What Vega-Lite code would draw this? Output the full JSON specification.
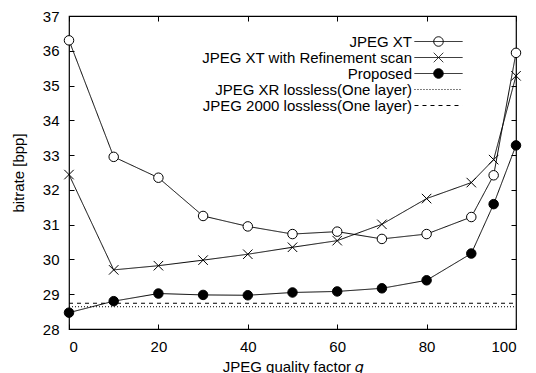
{
  "$schema": "https://vega.github.io/schema/vega-lite/v6.json",
  "width": 447,
  "height": 313,
  "autosize": {"type": "none"},
  "padding": {"left": 69, "top": 16, "right": 20, "bottom": 44},
  "background": "white",
  "config": {
    "font": "Liberation Sans",
    "view": {"stroke": "black", "strokeWidth": 1.2},
    "axis": {
      "domain": false,
      "grid": false,
      "ticks": true,
      "zindex": 1,
      "offset": -5,
      "tickColor": "black",
      "tickSize": 5,
      "tickWidth": 1,
      "labelFont": "Liberation Sans",
      "labelFontSize": 15,
      "labelColor": "black",
      "titleFont": "Liberation Sans",
      "titleFontSize": 15,
      "titleFontWeight": "normal",
      "titleColor": "black"
    }
  },
  "datasets": {
    "main": [
      {"q": 0, "series": "JPEG XT", "bitrate": 36.3},
      {"q": 10, "series": "JPEG XT", "bitrate": 32.95},
      {"q": 20, "series": "JPEG XT", "bitrate": 32.35},
      {"q": 30, "series": "JPEG XT", "bitrate": 31.25},
      {"q": 40, "series": "JPEG XT", "bitrate": 30.95},
      {"q": 50, "series": "JPEG XT", "bitrate": 30.73},
      {"q": 60, "series": "JPEG XT", "bitrate": 30.8},
      {"q": 70, "series": "JPEG XT", "bitrate": 30.59},
      {"q": 80, "series": "JPEG XT", "bitrate": 30.73},
      {"q": 90, "series": "JPEG XT", "bitrate": 31.22},
      {"q": 95, "series": "JPEG XT", "bitrate": 32.42},
      {"q": 100, "series": "JPEG XT", "bitrate": 35.94},
      {"q": 0, "series": "JPEG XT with Refinement scan", "bitrate": 32.44},
      {"q": 10, "series": "JPEG XT with Refinement scan", "bitrate": 29.7},
      {"q": 20, "series": "JPEG XT with Refinement scan", "bitrate": 29.82},
      {"q": 30, "series": "JPEG XT with Refinement scan", "bitrate": 29.98},
      {"q": 40, "series": "JPEG XT with Refinement scan", "bitrate": 30.15},
      {"q": 50, "series": "JPEG XT with Refinement scan", "bitrate": 30.35},
      {"q": 60, "series": "JPEG XT with Refinement scan", "bitrate": 30.54},
      {"q": 70, "series": "JPEG XT with Refinement scan", "bitrate": 31.01},
      {"q": 80, "series": "JPEG XT with Refinement scan", "bitrate": 31.75},
      {"q": 90, "series": "JPEG XT with Refinement scan", "bitrate": 32.21},
      {"q": 95, "series": "JPEG XT with Refinement scan", "bitrate": 32.87},
      {"q": 100, "series": "JPEG XT with Refinement scan", "bitrate": 35.28},
      {"q": 0, "series": "Proposed", "bitrate": 28.47},
      {"q": 10, "series": "Proposed", "bitrate": 28.8},
      {"q": 20, "series": "Proposed", "bitrate": 29.02},
      {"q": 30, "series": "Proposed", "bitrate": 28.98},
      {"q": 40, "series": "Proposed", "bitrate": 28.97},
      {"q": 50, "series": "Proposed", "bitrate": 29.05},
      {"q": 60, "series": "Proposed", "bitrate": 29.08},
      {"q": 70, "series": "Proposed", "bitrate": 29.17},
      {"q": 80, "series": "Proposed", "bitrate": 29.4},
      {"q": 90, "series": "Proposed", "bitrate": 30.17},
      {"q": 95, "series": "Proposed", "bitrate": 31.59},
      {"q": 100, "series": "Proposed", "bitrate": 33.28},
      {"q": 0, "series": "JPEG XR lossless(One layer)", "bitrate": 28.64},
      {"q": 100, "series": "JPEG XR lossless(One layer)", "bitrate": 28.64},
      {"q": 0, "series": "JPEG 2000 lossless(One layer)", "bitrate": 28.74},
      {"q": 100, "series": "JPEG 2000 lossless(One layer)", "bitrate": 28.74}
    ]
  },
  "data": {"name": "main"},
  "layer": [
    {
      "mark": {"type": "line", "color": "black", "strokeWidth": 1},
      "encoding": {
        "x": {
          "field": "q", "type": "quantitative",
          "scale": {"domain": [0, 100], "nice": false, "zero": false},
          "axis": {
            "orient": "bottom",
            "values": [0, 20, 40, 60, 80, 100],
            "labelPadding": 10,
            "title": "JPEG quality factor 𝑞",
            "titleY": 42,
            "titleBaseline": "middle"
          }
        },
        "y": {
          "field": "bitrate", "type": "quantitative",
          "scale": {"domain": [28, 37], "nice": false, "zero": false},
          "axis": {
            "orient": "left",
            "values": [28, 29, 30, 31, 32, 33, 34, 35, 36, 37],
            "labelPadding": 10,
            "title": "bitrate [bpp]",
            "titleX": -56,
            "titleBaseline": "middle"
          }
        },
        "strokeDash": {
          "field": "series", "type": "nominal",
          "scale": {
            "domain": ["JPEG XT", "JPEG XT with Refinement scan", "Proposed", "JPEG XR lossless(One layer)", "JPEG 2000 lossless(One layer)"],
            "range": [[1, 0], [1, 0], [1, 0], [1, 2], [4, 4]]
          },
          "legend": {
            "title": null,
            "orient": "none",
            "legendX": 362,
            "legendY": 18,
            "padding": 0,
            "rowPadding": 0,
            "symbolSize": 90,
            "symbolStrokeWidth": 1,
            "symbolStrokeColor": "black",
            "labelFont": "Liberation Sans",
            "labelFontSize": 15,
            "labelColor": "black",
            "labelAlign": "right",
            "labelOffset": -34,
            "labelLimit": 400,
            "encode": {
              "symbols": {
                "update": {
                  "shape": {"signal": "datum.value === 'JPEG XT' || datum.value === 'Proposed' ? 'M-5.06,0H5.06M1,0A1,1 0 1,1 -1,0A1,1 0 1,1 1,0' : (datum.value === 'JPEG XT with Refinement scan' ? 'M-5.06,0H5.06M-1,-1L1,1M-1,1L1,-1' : 'M-5.06,0H5.06')"},
                  "fill": {"signal": "datum.value === 'Proposed' ? 'black' : (datum.value === 'JPEG XT' ? 'white' : 'transparent')"},
                  "stroke": {"value": "black"},
                  "opacity": {"value": 1}
                }
              }
            }
          }
        }
      }
    },
    {
      "transform": [{"filter": "datum.series === 'JPEG XT' || datum.series === 'JPEG XT with Refinement scan' || datum.series === 'Proposed'"}],
      "mark": {"type": "point", "stroke": "black", "strokeWidth": 1, "opacity": 1, "size": 90},
      "encoding": {
        "x": {"field": "q", "type": "quantitative", "axis": {"orient": "top", "values": [0, 20, 40, 60, 80, 100], "labels": false, "title": null}},
        "y": {"field": "bitrate", "type": "quantitative", "axis": {"orient": "right", "values": [28, 29, 30, 31, 32, 33, 34, 35, 36, 37], "labels": false, "title": null}},
        "shape": {
          "field": "series", "type": "nominal",
          "scale": {
            "domain": ["JPEG XT", "JPEG XT with Refinement scan", "Proposed"],
            "range": ["circle", "M-1,-1L1,1M-1,1L1,-1", "circle"]
          },
          "legend": null
        },
        "fill": {
          "field": "series", "type": "nominal",
          "scale": {
            "domain": ["JPEG XT", "JPEG XT with Refinement scan", "Proposed"],
            "range": ["white", "transparent", "black"]
          },
          "legend": null
        }
      }
    }
  ],
  "resolve": {"axis": {"x": "independent", "y": "independent"}}
}
